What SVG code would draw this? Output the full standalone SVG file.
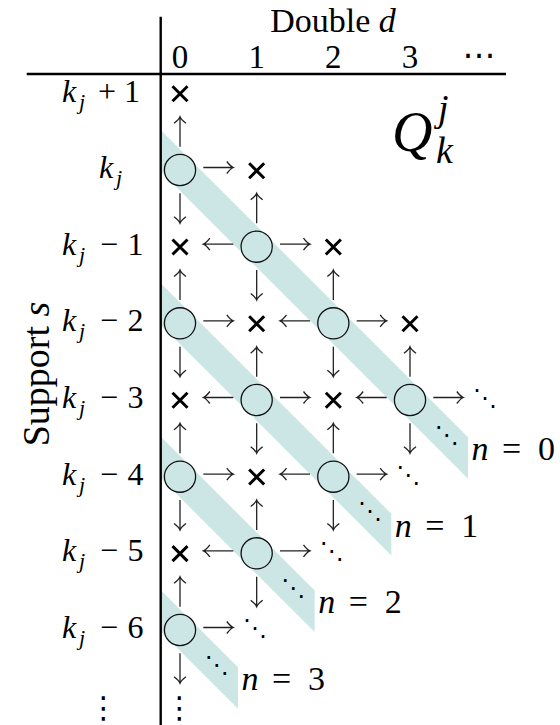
<svg xmlns="http://www.w3.org/2000/svg" xmlns:xlink="http://www.w3.org/1999/xlink" width="560" height="725" viewBox="0 0 560 725">
<style>
.band{fill:#cce6e6}
.c{fill:#cce6e6;stroke:#111;stroke-width:1.3}
.x{stroke:#000;stroke-width:3;fill:none}
.ar{stroke:#222;stroke-width:1.3;fill:none}
.ax{stroke:#000;stroke-width:2.4}
text{font-family:'Liberation Serif','DejaVu Serif',serif;fill:#000}
.i{font-style:italic}
.sub{font-size:22px;font-style:italic}
.m{text-anchor:middle}
text.dd{font-family:'DejaVu Sans',sans-serif;text-anchor:middle}
</style>
<defs>
<path id="ar" d="M-15 0H15M8.5-6Q12-1.2 15 0Q12 1.2 8.5 6"/>
<path id="xx" d="M-7.5-7.5L7.5 7.5M-7.5 7.5L7.5-7.5"/>
</defs>

<g id="bands">
<polygon id="band-n0" class="band" points="160.7,129.9 468,437.2 468,478.8 160.7,171.5"/>
<polygon id="band-n1" class="band" points="160.7,283.2 391.3,513.8 391.3,555.4 160.7,324.8"/>
<polygon id="band-n2" class="band" points="160.7,436.5 314.7,590.5 314.7,632.1 160.7,478.1"/>
<polygon id="band-n3" class="band" points="160.7,589.9 238,667.2 238,708.8 160.7,631.5"/>
</g>

<g id="axes">
<line class="ax" x1="160.7" y1="16.7" x2="160.7" y2="725"/>
<line class="ax" x1="26.7" y1="74" x2="506" y2="74"/>
</g>

<g id="header">
<text class="m" x="333" y="32" font-size="34">Double <tspan class="i">d</tspan></text>
<text class="m" x="180" y="68" font-size="33">0</text>
<text class="m" x="256.7" y="68" font-size="33">1</text>
<text class="m" x="333.3" y="68" font-size="33">2</text>
<text class="m" x="410" y="68" font-size="33">3</text>
<text class="dd" x="479" y="66" font-size="33">⋯</text>
</g>

<g id="row-labels" font-size="32">
<text x="62" y="101.5"><tspan class="i">k</tspan><tspan class="sub" x="79" dy="7">j</tspan><tspan class="m" x="107" dy="-7">+</tspan><tspan class="m" x="132">1</tspan></text>
<text x="99" y="178"><tspan class="i">k</tspan><tspan class="sub" x="116" dy="7">j</tspan></text>
<text x="62" y="254.7"><tspan class="i">k</tspan><tspan class="sub" x="79" dy="7">j</tspan><tspan class="m" x="109" dy="-7">−</tspan><tspan class="m" x="135.5">1</tspan></text>
<text x="62" y="331.3"><tspan class="i">k</tspan><tspan class="sub" x="79" dy="7">j</tspan><tspan class="m" x="109" dy="-7">−</tspan><tspan class="m" x="135.5">2</tspan></text>
<text x="62" y="408"><tspan class="i">k</tspan><tspan class="sub" x="79" dy="7">j</tspan><tspan class="m" x="109" dy="-7">−</tspan><tspan class="m" x="135.5">3</tspan></text>
<text x="62" y="484.7"><tspan class="i">k</tspan><tspan class="sub" x="79" dy="7">j</tspan><tspan class="m" x="109" dy="-7">−</tspan><tspan class="m" x="135.5">4</tspan></text>
<text x="62" y="561.3"><tspan class="i">k</tspan><tspan class="sub" x="79" dy="7">j</tspan><tspan class="m" x="109" dy="-7">−</tspan><tspan class="m" x="135.5">5</tspan></text>
<text x="62" y="638"><tspan class="i">k</tspan><tspan class="sub" x="79" dy="7">j</tspan><tspan class="m" x="109" dy="-7">−</tspan><tspan class="m" x="135.5">6</tspan></text>
<text class="dd" x="103.5" y="718" font-size="30">⋮</text>
</g>

<g id="axis-title">
<text class="m" transform="translate(49,374) rotate(-90)" font-size="38">Support <tspan class="i">s</tspan></text>
</g>

<g id="Q">
<text class="i" x="392" y="151" font-size="56">Q</text>
<text class="i" x="438" y="121" font-size="38">j</text>
<text class="i" x="436" y="163" font-size="38">k</text>
</g>

<g id="connectors" class="ar">
<use xlink:href="#ar" transform="translate(180,131.67) rotate(-90)"/>
<use xlink:href="#ar" transform="translate(218.33,167.5)"/>
<use xlink:href="#ar" transform="translate(180,208.33) rotate(90)"/>
<use xlink:href="#ar" transform="translate(218.33,244.17) rotate(180)"/>
<use xlink:href="#ar" transform="translate(295,244.17)"/>
<use xlink:href="#ar" transform="translate(256.67,208.33) rotate(-90)"/>
<use xlink:href="#ar" transform="translate(256.67,285) rotate(90)"/>
<use xlink:href="#ar" transform="translate(180,285) rotate(-90)"/>
<use xlink:href="#ar" transform="translate(218.33,320.83)"/>
<use xlink:href="#ar" transform="translate(180,361.67) rotate(90)"/>
<use xlink:href="#ar" transform="translate(295,320.83) rotate(180)"/>
<use xlink:href="#ar" transform="translate(371.67,320.83)"/>
<use xlink:href="#ar" transform="translate(333.33,285) rotate(-90)"/>
<use xlink:href="#ar" transform="translate(333.33,361.67) rotate(90)"/>
<use xlink:href="#ar" transform="translate(218.33,397.5) rotate(180)"/>
<use xlink:href="#ar" transform="translate(295,397.5)"/>
<use xlink:href="#ar" transform="translate(256.67,361.67) rotate(-90)"/>
<use xlink:href="#ar" transform="translate(256.67,438.33) rotate(90)"/>
<use xlink:href="#ar" transform="translate(371.67,397.5) rotate(180)"/>
<use xlink:href="#ar" transform="translate(448.33,397.5)"/>
<use xlink:href="#ar" transform="translate(410,361.67) rotate(-90)"/>
<use xlink:href="#ar" transform="translate(410,438.33) rotate(90)"/>
<use xlink:href="#ar" transform="translate(180,438.33) rotate(-90)"/>
<use xlink:href="#ar" transform="translate(218.33,474.17)"/>
<use xlink:href="#ar" transform="translate(180,515) rotate(90)"/>
<use xlink:href="#ar" transform="translate(295,474.17) rotate(180)"/>
<use xlink:href="#ar" transform="translate(371.67,474.17)"/>
<use xlink:href="#ar" transform="translate(333.33,438.33) rotate(-90)"/>
<use xlink:href="#ar" transform="translate(333.33,515) rotate(90)"/>
<use xlink:href="#ar" transform="translate(218.33,550.83) rotate(180)"/>
<use xlink:href="#ar" transform="translate(295,550.83)"/>
<use xlink:href="#ar" transform="translate(256.67,515) rotate(-90)"/>
<use xlink:href="#ar" transform="translate(256.67,591.67) rotate(90)"/>
<use xlink:href="#ar" transform="translate(180,591.67) rotate(-90)"/>
<use xlink:href="#ar" transform="translate(218.33,627.5)"/>
<use xlink:href="#ar" transform="translate(180,668.33) rotate(90)"/>
</g>

<g id="circles">
<circle id="c-r1d0" class="c" cx="180" cy="170" r="15.6"/>
<circle id="c-r2d1" class="c" cx="256.67" cy="246.67" r="15.6"/>
<circle id="c-r3d0" class="c" cx="180" cy="323.33" r="15.6"/>
<circle id="c-r3d2" class="c" cx="333.33" cy="323.33" r="15.6"/>
<circle id="c-r4d1" class="c" cx="256.67" cy="400" r="15.6"/>
<circle id="c-r4d3" class="c" cx="410" cy="400" r="15.6"/>
<circle id="c-r5d0" class="c" cx="180" cy="476.67" r="15.6"/>
<circle id="c-r5d2" class="c" cx="333.33" cy="476.67" r="15.6"/>
<circle id="c-r6d1" class="c" cx="256.67" cy="553.33" r="15.6"/>
<circle id="c-r7d0" class="c" cx="180" cy="630" r="15.6"/>
</g>

<g id="crosses" class="x">
<use id="x-r0d0" xlink:href="#xx" x="180" y="93.8"/>
<use id="x-r1d1" xlink:href="#xx" x="256.67" y="170.8"/>
<use id="x-r2d0" xlink:href="#xx" x="180" y="247"/>
<use id="x-r2d2" xlink:href="#xx" x="333.33" y="247"/>
<use id="x-r3d1" xlink:href="#xx" x="256.67" y="323.8"/>
<use id="x-r3d3" xlink:href="#xx" x="410" y="323.8"/>
<use id="x-r4d0" xlink:href="#xx" x="180" y="400.3"/>
<use id="x-r4d2" xlink:href="#xx" x="333.33" y="400.3"/>
<use id="x-r5d1" xlink:href="#xx" x="256.67" y="477"/>
<use id="x-r6d0" xlink:href="#xx" x="180" y="553.6"/>
</g>

<g id="ellipses">
<text class="dd" x="485" y="406" font-size="24">⋱</text>
<text class="dd" x="408.3" y="482.7" font-size="24">⋱</text>
<text class="dd" x="331.7" y="559.3" font-size="24">⋱</text>
<text class="dd" x="255" y="636" font-size="24">⋱</text>
<text class="dd" x="179.5" y="718" font-size="30">⋮</text>
<text class="dd" x="446.7" y="443" font-size="24">⋱</text>
<text class="dd" x="370" y="519.3" font-size="24">⋱</text>
<text class="dd" x="293.3" y="596" font-size="24">⋱</text>
<text class="dd" x="216.7" y="673" font-size="24">⋱</text>
</g>

<g id="band-labels" font-size="34">
<text x="471.5" y="460"><tspan class="i">n</tspan><tspan x="502">=</tspan><tspan x="538">0</tspan></text>
<text x="394.8" y="536.7"><tspan class="i">n</tspan><tspan x="425.3">=</tspan><tspan x="461.3">1</tspan></text>
<text x="318.2" y="613.3"><tspan class="i">n</tspan><tspan x="348.7">=</tspan><tspan x="384.7">2</tspan></text>
<text x="241.5" y="690"><tspan class="i">n</tspan><tspan x="272">=</tspan><tspan x="308">3</tspan></text>
</g>
</svg>
